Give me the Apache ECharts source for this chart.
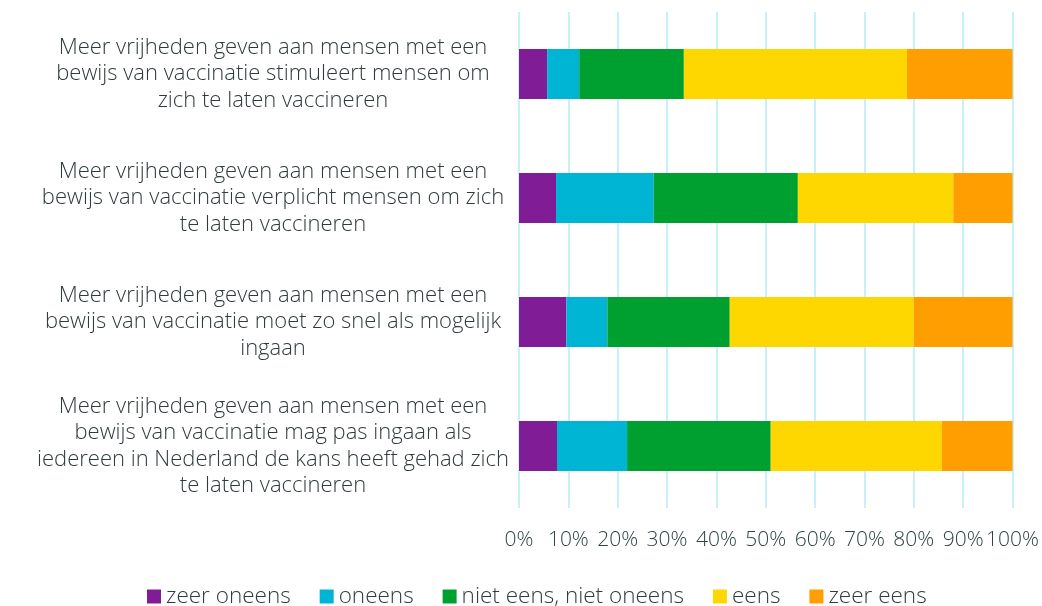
<!DOCTYPE html>
<html>
<head>
<meta charset="utf-8">
<script src="https://cdn.jsdelivr.net/npm/echarts@6/dist/echarts.min.js"></script>
<style>
  html, body { margin: 0; padding: 0; background: #fff; }
  #main { width: 1042px; height: 606px; }
</style>
</head>
<body>
<div id="main"></div>
<script>
var categories = [
  'Meer vrijheden geven aan mensen met een\nbewijs van vaccinatie stimuleert mensen om\nzich te laten vaccineren',
  'Meer vrijheden geven aan mensen met een\nbewijs van vaccinatie verplicht mensen om zich\nte laten vaccineren',
  'Meer vrijheden geven aan mensen met een\nbewijs van vaccinatie moet zo snel als mogelijk\ningaan',
  'Meer vrijheden geven aan mensen met een\nbewijs van vaccinatie mag pas ingaan als\niedereen in Nederland de kans heeft gehad zich\nte laten vaccineren'
];
var seriesNames = ['zeer oneens', 'oneens', 'niet eens, niet oneens', 'eens', 'zeer eens'];
var zeerOneens = [5.7, 7.5, 9.6, 7.7];
var oneens = [6.5, 19.8, 8.3, 14.2];
var neutraal = [21.2, 29.2, 24.8, 29.1];
var eens = [45.2, 31.5, 37.3, 34.7];
var zeerEens = [21.4, 12.0, 20.0, 14.3];
var colors = ['#801d96', '#00b4d4', '#00a030', '#ffd700', '#ff9e00'];

var Chart = echarts.init(document.getElementById('main'));

var fontFam = '"Open Sans", Lato, sans-serif';
var values = [zeerOneens, oneens, neutraal, eens, zeerEens];
var series = values.map(function (d, i) {
  return {
    name: seriesNames[i],
    type: 'bar',
    stack: 'total',
    barWidth: 50,
    data: d,
    itemStyle: { color: colors[i] }
  };
});

var option = {
  animation: false,
  color: colors,
  textStyle: { fontFamily: fontFam, fontWeight: 300 },
  grid: {
    left: 519,
    right: 29,
    top: 12,
    bottom: 98
  },
  legend: {
    top: 585,
    left: 147,
    padding: 0,
    itemWidth: 14,
    itemHeight: 14,
    itemGap: 29,
    icon: 'rect',
    textStyle: { fontSize: 22.5, color: '#2f3b3d', fontFamily: fontFam, fontWeight: 300 },
    data: seriesNames
  },
  xAxis: {
    type: 'value',
    min: 0,
    max: 100,
    interval: 10,
    axisLine: { show: false },
    axisTick: { show: false },
    axisLabel: {
      formatter: '{value}%',
      fontSize: 21,
      fontWeight: 300,
      color: '#2f4447',
      margin: 22
    },
    splitLine: {
      lineStyle: { color: '#c8f0f8', width: 2 }
    }
  },
  yAxis: {
    type: 'category',
    inverse: true,
    data: categories,
    axisLine: { show: false },
    axisTick: { show: false },
    axisLabel: {
      align: 'center',
      margin: 246,
      fontSize: 22,
      fontWeight: 300,
      lineHeight: 26.5,
      color: '#2f3b3d'
    }
  },
  series: series
};

Chart.setOption(option);
</script>
</body>
</html>
